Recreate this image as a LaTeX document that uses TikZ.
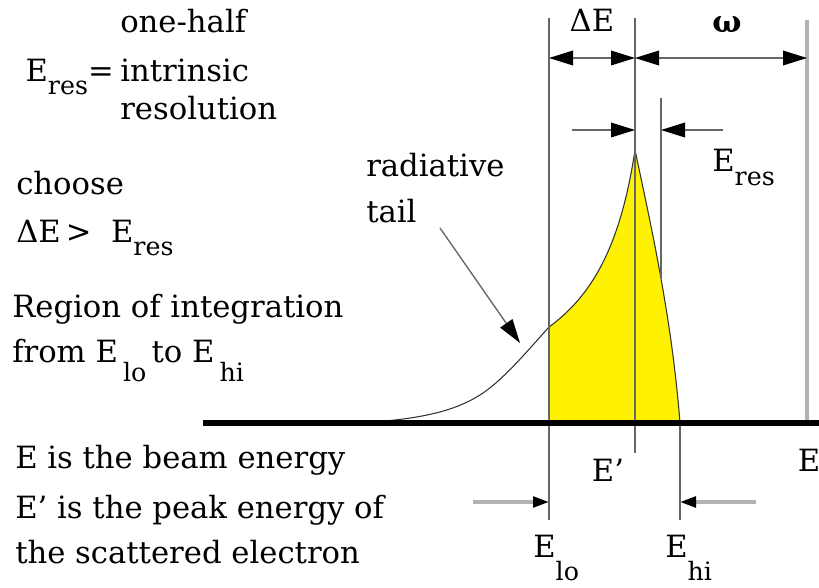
\documentclass[tikz,border=0pt]{standalone}
\usepackage{fontspec}
\setmainfont{DejaVu Serif}
\usepackage{tikz}
\usetikzlibrary{arrows.meta}
\newcommand{\lowsub}[2][0.42em]{\raisebox{-#1}{\fontsize{19}{19}\selectfont #2}}
\tikzset{
    txt/.style={inner sep=0pt, font=\fontsize{23}{28}\selectfont},
    markline/.style={draw=black!60, line width=1pt},
    beamline/.style={draw=black!30, line width=3pt},
    dimarrow/.style={draw=black!60, line width=1pt, {Triangle[length=18pt,width=11pt,color=black]}-{Triangle[length=18pt,width=11pt,color=black]}},
    pointer/.style={draw=black!60, line width=1pt, -{Triangle[length=18pt,width=11pt,color=black]}},
    softpointer/.style={draw=black!30, line width=2.5pt, -{Triangle[length=12pt,width=8pt,color=black]}}
}

\begin{document}
\begin{tikzpicture}[x=0.75pt, y=-0.75pt]
            \useasboundingbox (0,0) rectangle (819,588);

            % line end points
            \coordinate (lotop) at (549,18);
            \coordinate (lobot) at (549,520);
            \coordinate (pktop) at (635,18);
            \coordinate (pkbot) at (635,453);
            \coordinate (restop) at (661,98);
            \coordinate (resbot) at (661,278);
            \coordinate (hitop) at (680,423);
            \coordinate (hibot) at (680,520);
            \coordinate (etop) at (807,20);
            \coordinate (ebot) at (807,423);

            % peak area between E_lo and E_hi
            \fill[yellow] (549,423) -- (549,327) .. controls (590,297) and (620,250) .. (635,150)
                .. controls (652,230) and (672,320) .. (680,423) -- cycle;
            \draw[black!80, line width=0.8pt] (385,421) .. controls (440,416) and (465,405) .. (483,393)
                .. controls (505,378) and (530,348) .. (549,327)
                .. controls (590,297) and (620,250) .. (635,150)
                .. controls (652,230) and (672,320) .. (680,423);

            % vertical markers
            \draw[markline] (lotop) -- (lobot);
            \draw[markline] (pktop) -- (pkbot);
            \draw[markline] (restop) -- (resbot);
            \draw[markline] (hitop) -- (hibot);
            \draw[beamline] (etop) -- (ebot);

            % energy axis
            \draw[line width=5pt] (203,423) -- (819,423);

            % widths
            \coordinate (dlo) at (549,58);
            \coordinate (dpk) at (635,58);
            \coordinate (dbeam) at (807,58);
            \draw[dimarrow] (dlo) -- (dpk);
            \draw[dimarrow] (dpk) -- (dbeam);
            \coordinate (rl) at (572,130);
            \coordinate (rlend) at (635,130);
            \coordinate (rr) at (723,130);
            \coordinate (rrend) at (661,130);
            \draw[pointer] (rl) -- (rlend);
            \draw[pointer] (rr) -- (rrend);
            \coordinate (ll) at (473,502);
            \coordinate (llend) at (549,502);
            \coordinate (hr) at (756,502);
            \coordinate (hrend) at (680,502);
            \draw[softpointer] (ll) -- (llend);
            \draw[softpointer] (hr) -- (hrend);

            % labels on the plot
            \node[txt, anchor=base] (dE) at (592,32) {ΔE};
            \node[txt, anchor=base] (omega) at (727,33) {\bfseries ω};
            \node[txt, anchor=base west] (eresr) at (712,172) {E\lowsub[0.45em]{res}};
            \node[txt, anchor=base west] (rad) at (366,177) {radiative};
            \node[txt, anchor=base west] (tail) at (366,223) {tail};
            \coordinate (tailfrom) at (440,228);
            \coordinate (tailtip) at (520,343);
            \draw[pointer] (tailfrom) -- (tailtip);
            \node[txt, anchor=base] (eprime) at (608,482) {E’};
            \node[txt, anchor=base] (ebeam) at (809,472) {E};
            \node[txt, anchor=base west] (elo) at (533,557) {E\lowsub[0.75em]{lo}};
            \node[txt, anchor=base west] (ehi) at (665,557) {E\lowsub[0.75em]{hi}};

            % notes on the left
            \node[txt, anchor=base west] (onehalf) at (120,33) {one-half};
            \node[txt, anchor=base west] (intrinsic) at (120,82) {intrinsic};
            \node[txt, anchor=base west] (resol) at (120,120) {resolution};
            \node[txt, anchor=base east] (eresdef) at (114,82) {E\lowsub{res}=};
            \node[txt, anchor=base west] (choose) at (16,195) {choose};
            \node[txt, anchor=base west] (cond) at (16,243) {ΔE\,>\ \ E\lowsub{res}};
            \node[txt, anchor=base west] (region) at (12,318) {Region of integration};
            \node[txt, anchor=base west] (range) at (12,363) {from E\,\lowsub[0.6em]{lo}\,to E\,\lowsub[0.6em]{hi}};
            \node[txt, anchor=base west] (beamnote) at (15,469) {E is the beam energy};
            \node[txt, anchor=base west] (peaknote) at (15,518) {E’ is the peak energy of};
            \node[txt, anchor=base west] (scatnote) at (15,563) {the scattered electron};
        \end{tikzpicture}
\end{document}
